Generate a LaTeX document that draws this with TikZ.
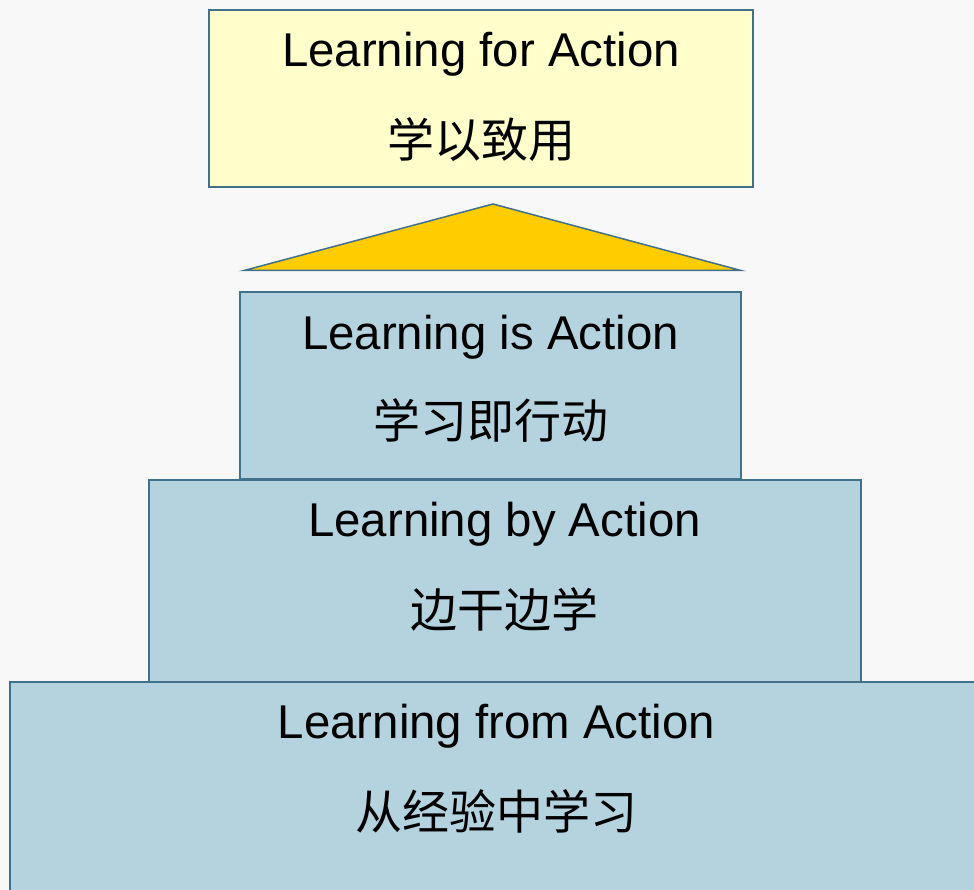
\documentclass[tikz,border=0pt]{standalone}
\usepackage{fontspec}
\setmainfont{Liberation Sans}
\newfontfamily\cjk{Noto Sans CJK SC}
\definecolor{bgc}{HTML}{F8F8F8}
\definecolor{yellowc}{HTML}{FFFFCC}
\definecolor{goldc}{HTML}{FFCC00}
\definecolor{bluec}{HTML}{B4D3DE}
\definecolor{edgec}{HTML}{41718A}
\begin{document}
\begin{tikzpicture}[x=1pt,y=-1pt,
  boxbase/.style={draw=edgec, line width=1.5pt, inner sep=0pt, outer sep=0pt, anchor=north west},
  bluebox/.style={boxbase, fill=bluec},
  yellowbox/.style={boxbase, fill=yellowc},
  lbl/.style={anchor=base, inner sep=0pt, font=\fontsize{47.4}{50}\selectfont},
  cjklbl/.style={anchor=base, inner sep=0pt, font=\cjk\fontsize{47}{50}\selectfont}]
\useasboundingbox (0,0) rectangle (974,890);
\fill[bgc] (0,0) rectangle (974,890);
\clip (0,0) rectangle (974,890);
% boxes
\node[bluebox, minimum width=973pt, minimum height=230pt] (b4) at (10,682) {};
\node[bluebox, minimum width=712pt, minimum height=202pt] (b3) at (149,480) {};
\node[bluebox, minimum width=501pt, minimum height=187pt] (b2) at (240,292) {};
\node[yellowbox, minimum width=544pt, minimum height=177pt] (b1) at (209,10) {};
% triangle
\coordinate (apex) at (493,204);
\coordinate (bl) at (244,270.5);
\coordinate (br) at (741,270.5);
\draw[draw=edgec, line width=1.5pt, fill=goldc, line join=miter] (bl) -- (apex) -- (br) -- cycle;
% texts
\node[lbl] (t1) at (481,67) {Learning for Action};
\node[cjklbl] (c1) at (481,157.5) {学以致用};
\node[lbl] (t2) at (490.5,349) {Learning is Action};
\node[cjklbl] (c2) at (490.5,438.5) {学习即行动};
\node[lbl] (t3) at (504.5,536) {Learning by Action};
\node[cjklbl] (c3) at (504.5,627.5) {边干边学};
\node[lbl] (t4) at (496.5,738) {Learning from Action};
\node[cjklbl] (c4) at (496.5,829) {从经验中学习};
\end{tikzpicture}
\end{document}
